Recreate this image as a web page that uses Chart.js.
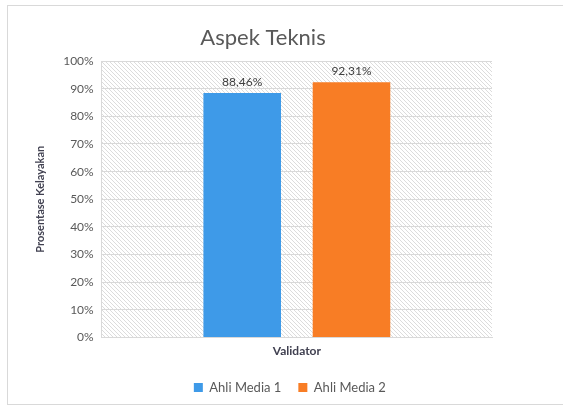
<!DOCTYPE html>
<html>
<head>
<meta charset="utf-8">
<script src="https://cdn.jsdelivr.net/npm/chart.js@4.4.3/dist/chart.umd.min.js"></script>
<style>
  html, body { margin: 0; padding: 0; background: #fff; }
  #wrap { position: relative; width: 563px; height: 409px; overflow: hidden; }
  #frame { position: absolute; left: 7px; top: 5px; width: 600px; height: 398px; border: 1px solid #d9d9d9; }
  canvas { position: absolute; left: 0; top: 0; }
</style>
</head>
<body>
<div id="wrap">
  <div id="frame"></div>
  <canvas id="c" width="563" height="409"></canvas>
</div>
<script>
// chart values
const categories = ["Validator"];
const seriesNames = ["Ahli Media 1", "Ahli Media 2"];
const seriesValues = [[88.46], [92.31]];
const seriesColors = ["#3E9AE8", "#F87D25"];
const valueLabels = ["88,46%", "92,31%"];
const titleText = "Aspek Teknis";
const yTitle = "Prosentase Kelayakan";

const FONT = "Lato, 'Open Sans', sans-serif";

// diagonal hatch pattern for the plot area
function makeHatch() {
  const p = document.createElement("canvas");
  p.width = 4; p.height = 4;
  const g = p.getContext("2d");
  g.fillStyle = "#fff";
  g.fillRect(0, 0, 4, 4);
  g.strokeStyle = "#dcdcdc";
  g.lineWidth = 1;
  g.beginPath();
  g.moveTo(-1, -1); g.lineTo(5, 5);
  g.moveTo(-1, 3); g.lineTo(1, 5);
  g.moveTo(3, -1); g.lineTo(5, 1);
  g.stroke();
  return p;
}

const hatchBg = {
  id: "hatchBg",
  beforeDraw(chart) {
    const { ctx, chartArea: a } = chart;
    ctx.save();
    ctx.fillStyle = ctx.createPattern(makeHatch(), "repeat");
    ctx.fillRect(a.left, a.top, a.right - a.left, a.bottom - a.top);
    ctx.restore();
  },
};

// legend sits under the plot centre in the original, not the canvas centre
const legendShift = {
  id: "legendShift",
  afterUpdate(chart) {
    const lg = chart.legend;
    if (!lg) return;
    const a = chart.chartArea;
    const mid = (a.left + a.right) / 2 - 7;
    const d = mid - (lg.left + lg.right) / 2;
    lg.left += d;
    lg.right += d;
    lg.adjustHitBoxes();
  },
};

const titleAndLabels = {
  id: "titleAndLabels",
  afterDatasetsDraw(chart) {
    const { ctx } = chart;
    ctx.save();
    ctx.font = "12px " + FONT;
    ctx.fillStyle = "#404040";
    ctx.textAlign = "center";
    ctx.textBaseline = "bottom";
    chart.data.datasets.forEach((ds, i) => {
      const bar = chart.getDatasetMeta(i).data[0];
      ctx.fillText(valueLabels[i], bar.x, bar.y - 5);
    });
    // title, sitting left of the plot centre as in the original layout
    ctx.font = "22px " + FONT;
    ctx.fillStyle = "#595959";
    ctx.textBaseline = "alphabetic";
    ctx.fillText(titleText, 263, 45);
    ctx.restore();
  },
};

new Chart(document.getElementById("c"), {
  type: "bar",
  data: {
    labels: categories,
    datasets: seriesNames.map((name, i) => ({
      label: name,
      data: seriesValues[i],
      backgroundColor: seriesColors[i],
      borderWidth: 0,
      barPercentage: 0.71,
      categoryPercentage: 0.56,
    })),
  },
  options: {
    responsive: false,
    animation: false,
    layout: { padding: { left: 34, right: 71, top: 61, bottom: 5 } },
    scales: {
      y: {
        min: 0,
        max: 100,
        ticks: {
          stepSize: 10,
          color: "#595959",
          font: { family: FONT, size: 12 },
          padding: 8,
          callback: (v) => v + "%",
        },
        grid: { color: "#d9d9d9", drawTicks: false },
        border: { display: true, color: "#d9d9d9" },
        title: {
          display: true,
          text: yTitle,
          color: "#404050",
          font: { family: FONT, size: 11, weight: "bold" },
          padding: { top: 0, bottom: 8 },
        },
      },
      x: {
        ticks: {
          color: "#404050",
          font: { family: FONT, size: 12, weight: "bold" },
          padding: 6,
        },
        grid: { display: false, drawTicks: false },
        border: { display: true, color: "#d9d9d9" },
      },
    },
    plugins: {
      legend: {
        position: "bottom",
        labels: {
          boxWidth: 9,
          boxHeight: 9,
          color: "#595959",
          font: { family: FONT, size: 13 },
          padding: 17,
        },
      },
      tooltip: { enabled: false },
      title: { display: false },
    },
  },
  plugins: [hatchBg, legendShift, titleAndLabels],
});
</script>
</body>
</html>
